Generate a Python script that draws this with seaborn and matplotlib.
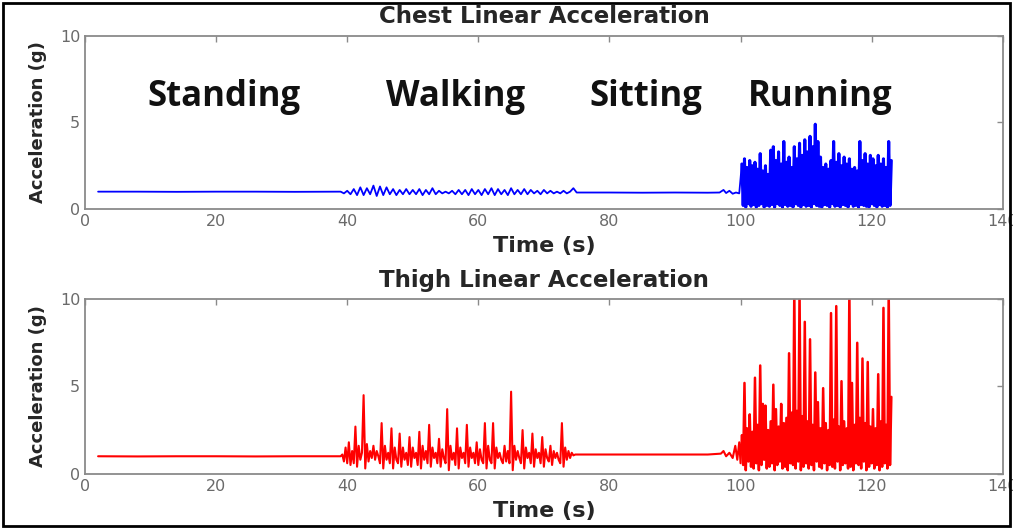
import numpy as np
import seaborn as sns
import matplotlib.pyplot as plt
from matplotlib.patches import Rectangle

# ---- chest sensor (g) ----
chest_stand_t = [2.0, 8.0, 14.0, 20.0, 26.0, 32.0, 38.9]
chest_stand_g = [1.0, 1.0, 0.99, 1.0, 1.0, 0.99, 1.0]

# walking, one sample every 0.5 s from 39 to 75 s
chest_walk_g = [1.0, 0.9, 1.05, 0.85, 1.15, 0.8, 1.25, 0.8, 1.2, 0.85,
                1.35, 0.75, 1.3, 0.8, 1.25, 0.85, 1.15, 0.8, 1.1, 0.85,
                1.15, 0.85, 1.1, 0.85, 1.15, 0.8, 1.1, 0.85, 1.2, 0.85,
                1.05, 0.9, 1.0, 0.9, 1.05, 0.85, 1.1, 0.85, 1.1, 0.8,
                1.15, 0.85, 1.1, 0.8, 1.15, 0.85, 1.2, 0.8, 1.15, 0.85,
                1.1, 0.8, 1.2, 0.85, 1.1, 0.85, 1.15, 0.85, 1.1, 0.9,
                1.05, 0.85, 1.1, 0.9, 1.05, 0.9, 1.0, 0.9, 1.05, 0.9,
                1.0, 1.2, 0.95]

chest_sit_t = [75.5, 80.0, 85.0, 90.0, 95.0, 96.8, 97.4, 97.8, 98.3, 98.8, 99.3, 99.8]
chest_sit_g = [0.95, 0.95, 0.94, 0.95, 0.94, 0.95, 1.1, 0.92, 1.05, 0.88, 0.95, 0.9]

# running, one sample every 0.2 s from 100.2 to 123 s
chest_run_g = [2.6, 0.2, 2.9, 0.1, 2.4, 0.3, 2.8, 0.15, 2.5, 0.25,
               2.7, 0.1, 2.3, 0.2, 3.2, 0.3, 2.2, 0.1, 2.5, 0.2,
               2.0, 0.15, 3.4, 0.25, 3.6, 0.1, 2.8, 0.3, 3.3, 0.2,
               2.6, 0.1, 3.9, 0.25, 2.7, 0.15, 3.0, 0.2, 2.4, 0.1,
               3.6, 0.3, 2.9, 0.2, 3.8, 0.1, 3.1, 0.25, 4.0, 0.15,
               3.3, 0.2, 4.2, 0.1, 3.6, 0.3, 4.9, 0.2, 3.9, 0.15,
               3.0, 0.1, 2.4, 0.25, 2.6, 0.2, 2.3, 0.1, 2.8, 0.3,
               3.9, 0.15, 2.7, 0.2, 3.2, 0.1, 2.5, 0.25, 3.0, 0.2,
               2.6, 0.1, 2.9, 0.3, 2.3, 0.15, 2.4, 0.2, 2.2, 0.1,
               3.9, 0.25, 2.8, 0.2, 3.2, 0.15, 2.6, 0.1, 3.1, 0.3,
               2.9, 0.2, 2.5, 0.1, 3.1, 0.25, 2.6, 0.15, 2.9, 0.2,
               2.4, 0.1, 3.9, 0.2, 2.8]

# ---- thigh sensor (g) ----
thigh_stand_t = [2.0, 8.0, 14.0, 20.0, 26.0, 32.0, 38.9]
thigh_stand_g = [1.0, 0.99, 1.0, 1.0, 0.99, 1.0, 1.0]

# walking, one sample every 0.25 s from 39 to 74.5 s
thigh_walk_g = [1.0, 1.1, 0.7, 1.5, 0.6, 1.8, 0.5, 1.3, 0.6, 2.7,
                0.4, 1.6, 0.8, 1.2, 4.5, 0.3, 1.7, 0.7, 1.3, 0.9,
                1.6, 0.8, 1.3, 1.0, 0.6, 2.9, 0.3, 1.6, 0.8, 1.2,
                0.6, 2.6, 0.3, 1.5, 0.8, 0.6, 2.3, 0.4, 1.5, 0.8,
                1.2, 0.5, 2.1, 0.4, 1.5, 0.9, 1.2, 0.5, 2.4, 0.3,
                1.6, 0.8, 1.3, 0.6, 2.8, 0.4, 1.5, 0.9, 1.2, 0.6,
                2.0, 0.4, 1.4, 0.9, 0.6, 3.7, 0.2, 1.6, 0.8, 1.2,
                0.5, 2.6, 0.3, 1.5, 0.9, 1.2, 0.6, 2.8, 0.4, 1.5,
                0.9, 1.2, 0.6, 1.8, 0.5, 1.4, 0.8, 0.6, 2.9, 0.3,
                1.6, 0.8, 0.6, 2.9, 0.3, 1.5, 0.9, 1.2, 0.8, 0.6,
                1.6, 0.7, 1.3, 0.6, 4.7, 0.2, 1.6, 0.8, 1.3, 0.9,
                0.6, 2.5, 0.3, 1.5, 0.9, 1.2, 0.6, 2.3, 0.4, 1.4,
                0.9, 1.2, 0.6, 2.1, 0.4, 1.4, 0.9, 0.7, 1.6, 0.5,
                1.3, 0.9, 1.2, 0.8, 0.6, 2.9, 0.4, 1.5, 0.8, 1.3,
                0.9, 1.2, 1.05]

thigh_sit_t = [74.8, 80.0, 85.0, 90.0, 95.0, 97.0, 97.4, 97.8, 98.3, 98.8, 99.2, 99.5, 99.8, 100.0]
thigh_sit_g = [1.1, 1.1, 1.1, 1.1, 1.1, 1.15, 1.3, 1.0, 1.2, 0.9, 1.6, 0.8, 1.8, 0.6]

# running, one sample every 0.2 s from 100.2 to 123 s (values above 10 are clipped)
thigh_run_g = [2.2, 0.5, 5.2, 0.2, 2.6, 0.7, 3.4, 0.4, 2.4, 0.3,
               5.5, 0.6, 2.8, 0.2, 6.2, 0.5, 4.0, 0.8, 3.9, 0.3,
               2.5, 0.4, 3.0, 0.6, 5.1, 0.2, 3.7, 0.5, 2.7, 0.7,
               4.0, 0.3, 2.9, 0.4, 3.2, 0.2, 6.9, 0.6, 3.5, 0.5,
               10.5, 0.3, 3.6, 0.7, 10.5, 0.2, 3.3, 0.4, 8.7, 0.6,
               3.0, 0.3, 7.7, 0.5, 2.8, 0.2, 5.8, 0.7, 4.1, 0.4,
               2.6, 0.3, 4.9, 0.6, 2.9, 0.2, 2.5, 0.5, 9.2, 0.4,
               3.1, 0.3, 9.6, 0.7, 2.7, 0.2, 5.3, 0.5, 3.0, 0.6,
               2.6, 0.3, 10.5, 0.4, 5.2, 0.2, 2.8, 0.6, 7.5, 0.5,
               3.2, 0.3, 6.6, 0.7, 2.9, 0.2, 6.4, 0.4, 2.7, 0.6,
               3.7, 0.3, 2.6, 0.5, 5.7, 0.2, 3.0, 0.4, 9.5, 0.6,
               2.8, 0.3, 10.5, 0.5, 4.4]

activities = ['Standing', 'Walking', 'Sitting', 'Running']
activity_t = [21.2, 56.5, 85.5, 112.2]
activity_g = [6.5, 6.5, 6.5, 6.5]


def series(stand_t, stand_g, walk_g, walk_end, sit_t, sit_g):
    t = np.concatenate([stand_t, np.linspace(39.0, walk_end, len(walk_g)), sit_t])
    g = np.concatenate([stand_g, walk_g, sit_g])
    return t, g


chest_t, chest_g = series(chest_stand_t, chest_stand_g, chest_walk_g, 75.0,
                          chest_sit_t, chest_sit_g)
thigh_t, thigh_g = series(thigh_stand_t, thigh_stand_g, thigh_walk_g, 74.5,
                          thigh_sit_t, thigh_sit_g)
run_t = np.linspace(100.2, 123.0, len(chest_run_g))

sns.set_style('white')
plt.rcParams['font.family'] = ['DejaVu Sans']

fig = plt.figure(figsize=(10.13, 5.29), dpi=100)
ax1 = fig.add_axes([0.0839, 0.605, 0.906, 0.327])
ax2 = fig.add_axes([0.0839, 0.1045, 0.906, 0.330])

sns.lineplot(x=np.append(chest_t, run_t[0]), y=np.append(chest_g, chest_run_g[0]),
             ax=ax1, color='#0000ff', lw=1.3, estimator=None, sort=False)
sns.lineplot(x=run_t, y=chest_run_g, ax=ax1, color='#0000ff', lw=2.2,
             estimator=None, sort=False)
sns.lineplot(x=np.append(thigh_t, run_t[0]), y=np.append(thigh_g, thigh_run_g[0]),
             ax=ax2, color='#ff0000', lw=1.5, estimator=None, sort=False)
sns.lineplot(x=run_t, y=thigh_run_g, ax=ax2, color='#ff0000', lw=1.8,
             estimator=None, sort=False)

for ax, title in [(ax1, 'Chest Linear Acceleration'), (ax2, 'Thigh Linear Acceleration')]:
    ax.set_xlim(0, 140)
    ax.set_ylim(0, 10)
    ax.set_xticks(range(0, 141, 20))
    ax.set_yticks([0, 5, 10])
    ax.tick_params(direction='in', top=True, right=True, length=4, width=1,
                   color='#8a8a8a', labelcolor='#6a6a6a', labelsize=11.5)
    for s in ax.spines.values():
        s.set_color('#8a8a8a')
        s.set_linewidth(1.3)
    ax.set_title(title, fontsize=16.5, fontweight='bold', pad=9)
    ax.set_xlabel('Time (s)', fontsize=16, fontweight='bold', labelpad=5)
    ax.set_ylabel('Acceleration (g)', fontsize=13, fontweight='bold', labelpad=9)

for name, x, y in zip(activities, activity_t, activity_g):
    ax1.text(x, y, name, ha='center', va='center', fontsize=25,
             fontweight='bold', family='Open Sans', color='#111111')

fig.add_artist(Rectangle((3 / 1013, 3 / 529), 1007 / 1013, 523 / 529,
                         transform=fig.transFigure, fill=False,
                         edgecolor='black', lw=2, zorder=10))

fig.savefig('out.png', dpi=100)
